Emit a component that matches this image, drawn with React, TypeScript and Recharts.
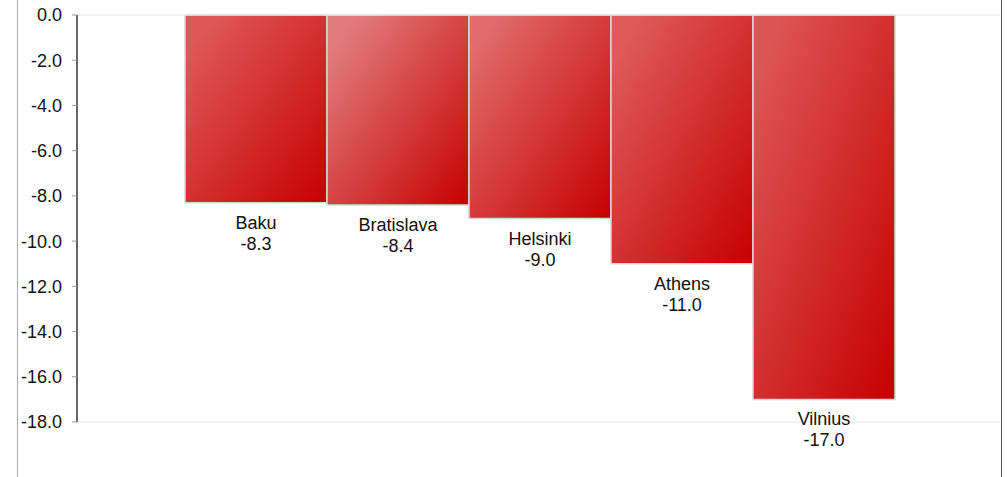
import React from 'react';
import {
    BarChart,
    Bar,
    XAxis,
    YAxis,
    ReferenceLine,
    Cell,
    LabelList
} from 'recharts';

const cities = ['Baku', 'Bratislava', 'Helsinki', 'Athens', 'Vilnius'];
const changes = [-8.3, -8.4, -9.0, -11.0, -17.0];
const yTicks = [0, -2, -4, -6, -8, -10, -12, -14, -16, -18];

// light top-left colour of each bar's diagonal gradient
const BAR_LIGHT = ['#df5858', '#e27c7c', '#e16b6b', '#de5a5a', '#dd5454'];
const BAR_DARK = '#c60000';

const data = cities.map((name, i) => ({ name, value: changes[i] }));

const FONT = 'Arial, "Liberation Sans", sans-serif';

const renderBarLabel = (props: any) => {
    const { x, y, width, height, index } = props;
    const bottom = Math.max(y, y + height);
    const cx = x + width / 2;
    return (
        <g>
            <text x={cx} y={bottom + 26} textAnchor="middle" fontSize={18} fill="#111" fontFamily={FONT}>
                {data[index].name}
            </text>
            <text x={cx} y={bottom + 47} textAnchor="middle" fontSize={18} fill="#111" fontFamily={FONT}>
                {data[index].value.toFixed(1)}
            </text>
        </g>
    );
};

export default function App() {
    return (
        <div style={{ position: 'absolute', left: 0, top: 0, width: 1007, height: 477, background: '#fff' }}>
            <div style={{ position: 'absolute', left: 17, top: 0, width: 983, height: 477, borderLeft: '1px solid #aaa', borderRight: '1px solid #555' }} />
            <BarChart
                width={1007}
                height={477}
                data={data}
                margin={{ top: 15, right: 7, left: 0, bottom: 55 }}
                barCategoryGap={0}
                style={{ position: 'absolute', left: 0, top: 0 }}
            >
                <defs>
                    {BAR_LIGHT.map((c, i) => (
                        <linearGradient key={i} id={`barGrad${i}`} x1="0" y1="0" x2="1" y2="1">
                            <stop offset="10%" stopColor={c} />
                            <stop offset="100%" stopColor={BAR_DARK} />
                        </linearGradient>
                    ))}
                </defs>
                <XAxis dataKey="name" hide padding={{ left: 108, right: 105 }} />
                <YAxis
                    width={77}
                    domain={[-18, 0]}
                    ticks={yTicks}
                    interval={0}
                    tickFormatter={(v: number) => v.toFixed(1)}
                    tick={{ fontSize: 18, fill: '#111', fontFamily: FONT }}
                    tickSize={5}
                    tickMargin={10}
                    tickLine={{ stroke: '#999' }}
                    axisLine={{ stroke: '#000', strokeWidth: 1.2 }}
                />
                <ReferenceLine y={0} stroke="#e8e8e8" />
                <ReferenceLine y={-18} stroke="#e8e8e8" />
                <Bar dataKey="value" isAnimationActive={false} stroke="#d8d8d8" strokeWidth={1.5}>
                    {data.map((entry, index) => (
                        <Cell key={`cell-${index}`} fill={`url(#barGrad${index})`} />
                    ))}
                    <LabelList dataKey="value" content={renderBarLabel} />
                </Bar>
            </BarChart>
        </div>
    );
}
